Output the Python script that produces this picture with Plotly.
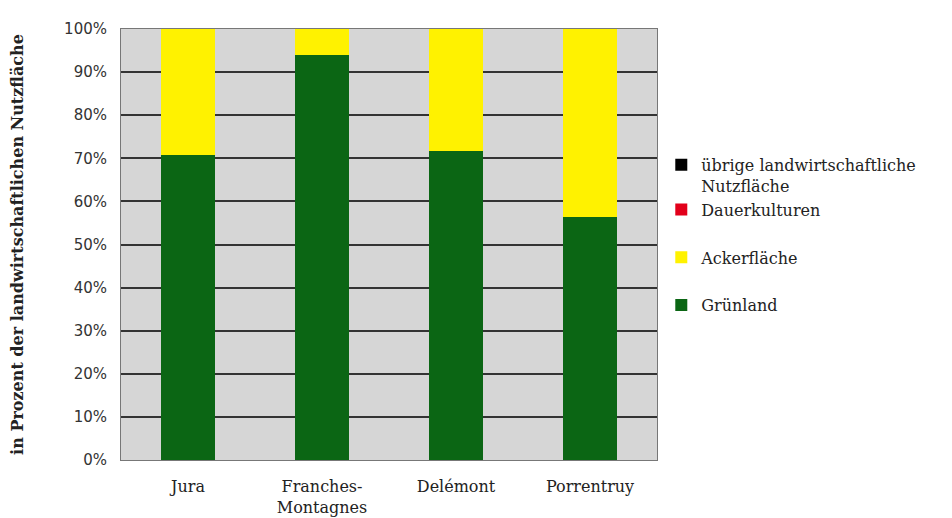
import plotly.graph_objects as go

# Flächennutzung nach Bezirk (Anteile an der landwirtschaftlichen Nutzfläche, %)
regions = ["Jura", "Franches-<br>Montagnes", "Delémont", "Porrentruy"]
gruenland = [70.8, 94.0, 71.7, 56.4]
ackerflaeche = [29.2, 6.0, 28.3, 43.6]
dauerkulturen = [0.0, 0.0, 0.0, 0.0]
uebrige = [0.0, 0.0, 0.0, 0.0]

# (name, values, colour, legend group, legend rank)
series = [
    ("Grünland", gruenland, "#0b6614", "c", 4),
    ("Ackerfläche", ackerflaeche, "#fff200", "b", 3),
    ("Dauerkulturen", dauerkulturen, "#e2001a", "a", 2),
    ("übrige landwirtschaftliche<br>Nutzfläche", uebrige, "#000000", "a", 1),
]

fig = go.Figure()
for name, vals, col, grp, rank in series:
    fig.add_trace(go.Bar(
        x=regions, y=vals, name=name, legendgroup=grp, legendrank=rank,
        marker=dict(color=col, line=dict(width=0)),
    ))

serif = "DejaVu Serif"
fig.update_layout(
    barmode="stack",
    bargap=0.595,
    width=952, height=518,
    margin=dict(l=121, r=295, t=29, b=58),
    paper_bgcolor="white",
    plot_bgcolor="#d6d6d6",
    font=dict(family=serif, color="#222222"),
    legend=dict(
        traceorder="grouped",
        tracegroupgap=24,
        valign="top",
        x=1.008, xanchor="left",
        y=0.724, yanchor="top",
        font=dict(family=serif, size=16, color="#222222"),
        itemwidth=30,
        bgcolor="rgba(0,0,0,0)",
    ),
    xaxis=dict(
        showgrid=False, automargin=False,
        showline=True, linecolor="#777777", linewidth=1, mirror=True,
        ticks="", ticklabelstandoff=12,
        tickfont=dict(family=serif, size=16, color="#222222"),
    ),
    yaxis=dict(
        range=[0, 100], automargin=False,
        tickvals=list(range(0, 101, 10)),
        ticktext=[f"{v}%" for v in range(0, 101, 10)],
        tickfont=dict(family="DejaVu Sans", size=15, color="#333333"),
        showgrid=True, gridcolor="#333333", gridwidth=1.5,
        showline=True, linecolor="#777777", linewidth=1, mirror=True,
        zeroline=False, ticklabelstandoff=10,
        title=dict(
            text="<b>in Prozent der landwirtschaftlichen Nutzfläche</b>",
            font=dict(family=serif, size=16, color="#222222"),
            standoff=36,
        ),
    ),
)

fig.write_html("out.html")
